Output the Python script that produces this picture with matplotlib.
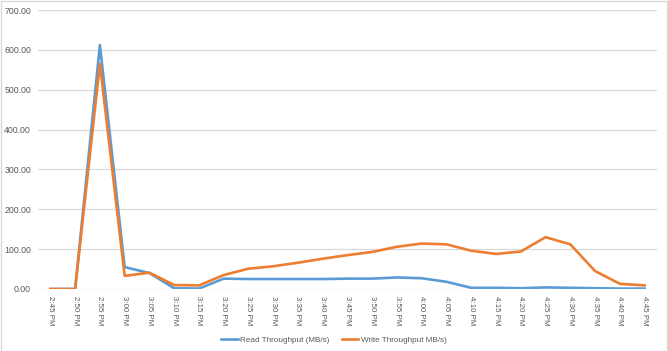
import matplotlib
matplotlib.use("Agg")
import matplotlib.pyplot as plt
from matplotlib.patches import Rectangle

times = ["2:45 PM", "2:50 PM", "2:55 PM", "3:00 PM", "3:05 PM", "3:10 PM", "3:15 PM",
         "3:20 PM", "3:25 PM", "3:30 PM", "3:35 PM", "3:40 PM", "3:45 PM", "3:50 PM",
         "3:55 PM", "4:00 PM", "4:05 PM", "4:10 PM", "4:15 PM", "4:20 PM", "4:25 PM",
         "4:30 PM", "4:35 PM", "4:40 PM", "4:45 PM"]
read_mbs = [0, 0, 612, 55, 40, 2, 1, 26, 25, 25, 25, 25, 26, 26,
            29, 27, 18, 3, 3, 2, 4, 3, 2, 1, 1]
write_mbs = [0, 0, 565, 33, 41, 10, 9, 35, 51, 57, 66, 76, 85, 93,
             106, 114, 112, 96, 88, 94, 130, 112, 45, 13, 9]
y_ticks = [0, 100, 200, 300, 400, 500, 600, 700]

plt.rcParams["font.family"] = ["Liberation Sans", "DejaVu Sans"]

fig = plt.figure(figsize=(6.68, 3.51), dpi=100)
ax = fig.add_axes([38 / 668, 1 - 289 / 351, (657 - 38) / 668, (289 - 10) / 351])

x = list(range(len(times)))
ax.plot(x, read_mbs, color="#5B9BD5", lw=1.9, label="Read Throughput (MB/s)", solid_joinstyle="round")
ax.plot(x, write_mbs, color="#ED7D31", lw=1.9, label="Write Throughput MB/s)", solid_joinstyle="round")

ax.set_xlim(-0.5, len(times) - 0.5)
ax.set_ylim(0, 700)
ax.set_yticks(y_ticks)
ax.set_yticklabels([f"{v:.2f}" for v in y_ticks], fontsize=6.3, color="#595959")
ax.set_xticks(x)
ax.set_xticklabels(times, rotation=270, fontsize=5.7, color="#595959")
ax.tick_params(axis="y", length=0, pad=5)
ax.tick_params(axis="x", length=0, pad=5)
ax.grid(axis="y", color="#D9D9D9", lw=0.9)
ax.set_axisbelow(True)
for s in ax.spines.values():
    s.set_visible(False)

fig.legend(loc="lower center", bbox_to_anchor=(0.5, 0.0), ncol=2, frameon=False,
           fontsize=5.9, handlelength=2.0, handletextpad=0.3, columnspacing=1.5,
           labelcolor="#595959")

fig.patches.append(Rectangle((0.5 / 668, 0.5 / 351), 1 - 1.5 / 668, 1 - 1.5 / 351,
                             transform=fig.transFigure, fill=False, ec="#D9D9D9", lw=1))

fig.savefig("out.png", dpi=100)
